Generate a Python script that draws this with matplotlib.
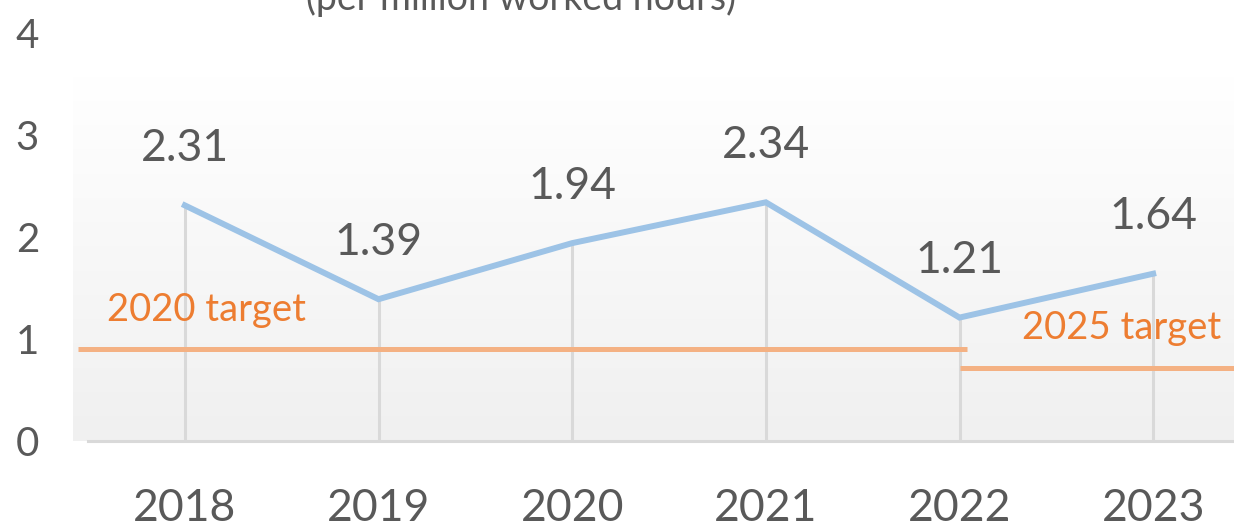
import numpy as np
import matplotlib
matplotlib.use("Agg")
import matplotlib.pyplot as plt

# Chart data
years = ["2018", "2019", "2020", "2021", "2022", "2023"]
rates = [2.31, 1.39, 1.94, 2.34, 1.21, 1.64]
target_2020 = 0.9
target_2025 = 0.72
target_labels = ["2020 target", "2025 target"]
y_ticks = [0, 1, 2, 3, 4]

GRAY_TXT = "#595959"
BLUE = "#9dc3e6"
ORANGE_LINE = "#f4b183"
ORANGE_TXT = "#ed7d31"
GRID = "#d9d9d9"

plt.rcParams['font.family'] = ['Lato', 'DejaVu Sans']

fig = plt.figure(figsize=(12.34, 5.28), dpi=100)
ax = fig.add_axes([88 / 1234, 1 - 441 / 528, (1250 - 88) / 1234, 408 / 528])

x = np.arange(len(years))
ax.set_xlim(-0.5, len(years) - 0.5)
ax.set_ylim(0, 4)

# gradient plot area (light gray at bottom -> white at top)
grad = np.linspace(0.0, 1.0, 256).reshape(-1, 1)
cmap = matplotlib.colors.LinearSegmentedColormap.from_list("g", ["#f0f0f0", "#ffffff"])
ax.imshow(grad, cmap=cmap, aspect="auto", extent=(-0.58, len(years) - 0.5, 0, 3.57),
          origin="lower", zorder=0, clip_on=False, vmin=0, vmax=1)
ax.set_facecolor("none")

# drop lines
ax.vlines(x, 0, rates, color=GRID, lw=2.2, zorder=1)

# target lines
ax.plot([-0.55, 4.04], [target_2020, target_2020], color=ORANGE_LINE, lw=3.6,
        solid_capstyle="butt", zorder=2, clip_on=False)
ax.plot([4.0, 5.5], [target_2025, target_2025], color=ORANGE_LINE, lw=3.6,
        solid_capstyle="butt", zorder=2)
ax.text(-0.4, 1.28, target_labels[0], color=ORANGE_TXT, fontsize=27.5, va="center", ha="left")
ax.text(5.35, 1.11, target_labels[1], color=ORANGE_TXT, fontsize=27.5, va="center", ha="right")

# main series
ax.plot(x, rates, color=BLUE, lw=4.3, solid_joinstyle="miter", zorder=3)
for xi, v in zip(x, rates):
    ax.annotate(f"{v:.2f}", (xi, v), xytext=(0, 41), textcoords="offset points",
                ha="center", va="center", fontsize=32, color=GRAY_TXT)

# axes styling
for s in ["top", "right", "left"]:
    ax.spines[s].set_visible(False)
ax.spines["bottom"].set_color(GRID)
ax.spines["bottom"].set_linewidth(2.2)
ax.set_xticks(x)
ax.set_xticklabels(years)
ax.set_yticks(y_ticks)
ax.tick_params(axis="x", length=0, pad=34, labelsize=32, labelcolor=GRAY_TXT)
ax.tick_params(axis="y", length=0, pad=52, labelsize=29, labelcolor=GRAY_TXT)
for lbl in ax.get_yticklabels():
    lbl.set_horizontalalignment("left")

fig.text(521 / 1234, 1 - 10 / 528, "(per million worked hours)", ha="center", va="baseline",
         fontsize=27, color=GRAY_TXT)

fig.savefig("out.png", dpi=100)
